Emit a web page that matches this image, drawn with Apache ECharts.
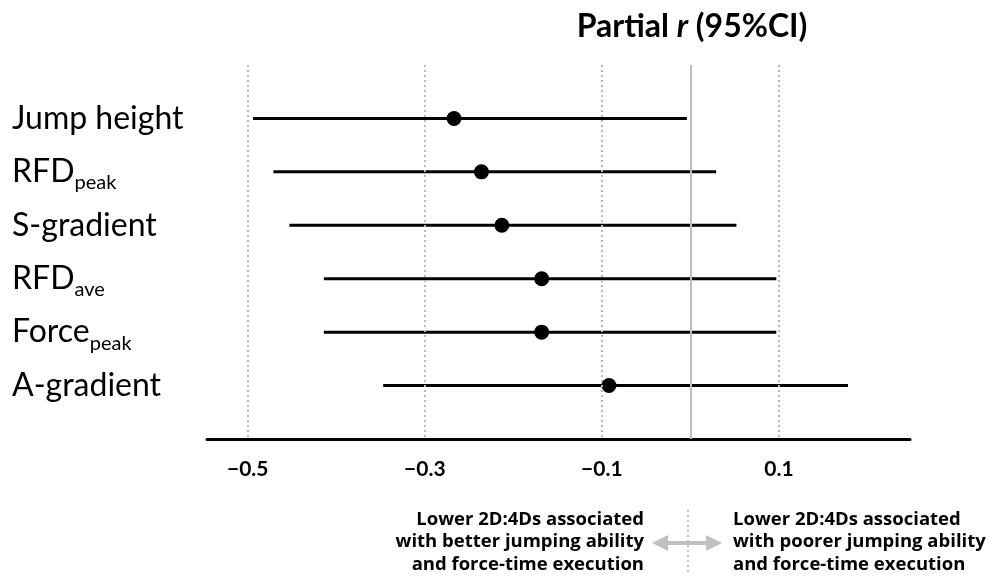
<!DOCTYPE html>
<html>
<head>
<meta charset="utf-8">
<script src="https://cdn.jsdelivr.net/npm/echarts@6/dist/echarts.min.js"></script>
<style>
  html, body { margin: 0; padding: 0; background: #fff; }
  #chart { width: 993px; height: 579px; }
</style>
</head>
<body>
<div id="chart"></div>
<script>
// outcome labels (rich text for the subscripts)
const categories = ['Jump height', 'RFD{sub|peak}', 'S-gradient', 'RFD{sub|ave}', 'Force{sub|peak}', 'A-gradient']
// partial r and 95% CI
const estimates = [-0.267, -0.236, -0.213, -0.168, -0.168, -0.092]
const lowerCI = [-0.494, -0.471, -0.453, -0.414, -0.414, -0.347]
const upperCI = [-0.004, 0.029, 0.052, 0.097, 0.097, 0.178]
const tickValues = [-0.5, -0.3, -0.1, 0.1]

const FONT = 'Lato, "Open Sans", sans-serif'
const NOTE_FONT = '"Open Sans", Lato, sans-serif'

const chart = echarts.init(document.getElementById('chart'))

const ciData = categories.map((c, i) => [lowerCI[i], upperCI[i], i])
const pointData = categories.map((c, i) => [estimates[i], i])

const option = {
  backgroundColor: '#fff',
  animation: false,
  title: {
    text: '{b|Partial }{i|r}{b| (95%CI)}',
    left: 687,
    top: 6,
    textAlign: 'center',
    textStyle: {
      rich: {
        b: { fontSize: 32, fontWeight: 'bold', fontFamily: FONT, color: '#000' },
        i: { fontSize: 32, fontWeight: 'bold', fontStyle: 'italic', fontFamily: FONT, color: '#000' }
      }
    }
  },
  grid: { left: 207, right: 83, top: 65, bottom: 140 },
  xAxis: {
    type: 'value',
    min: -0.546,
    max: 0.248,
    axisLine: { show: true, onZero: false, lineStyle: { color: '#000', width: 3 } },
    axisTick: { show: false },
    splitLine: { show: false },
    axisLabel: {
      customValues: tickValues,
      margin: 20,
      fontSize: 21,
      fontWeight: 'bold',
      fontFamily: FONT,
      color: '#000',
      formatter: v => v.toFixed(1).replace('-', '\u2212')
    }
  },
  yAxis: {
    type: 'value',
    inverse: true,
    min: -1,
    max: 6,
    interval: 1,
    axisLine: { show: false },
    axisTick: { show: false },
    splitLine: { show: false },
    axisLabel: {
      align: 'left',
      margin: 195,
      fontSize: 32,
      fontFamily: FONT,
      color: '#000',
      formatter: v => categories[v] || '',
      rich: {
        sub: { fontSize: 20, fontFamily: FONT, color: '#000', padding: [22, 0, 0, 0] }
      }
    }
  },
  series: [
    {
      // reference grid lines
      type: 'scatter',
      data: [],
      z: 1,
      silent: true,
      markLine: {
        symbol: 'none',
        silent: true,
        label: { show: false },
        data: [
          ...tickValues.map(v => ({ xAxis: v, lineStyle: { color: '#b8b8b8', width: 2, type: [2, 3] } })),
          { xAxis: 0, lineStyle: { color: '#bdbdbd', width: 2, type: 'solid' } }
        ]
      }
    },
    {
      type: 'custom',
      z: 3,
      data: ciData,
      encode: { x: [0, 1], y: 2 },
      renderItem: (params, api) => {
        const a = api.coord([api.value(0), api.value(2)])
        const b = api.coord([api.value(1), api.value(2)])
        return {
          type: 'line',
          shape: { x1: a[0], y1: a[1], x2: b[0], y2: b[1] },
          style: { stroke: '#000', lineWidth: 3 }
        }
      }
    },
    {
      type: 'scatter',
      z: 4,
      data: pointData,
      symbol: 'circle',
      symbolSize: 15,
      itemStyle: { color: '#000', opacity: 1 }
    }
  ],
  graphic: [
    {
      type: 'text',
      x: 644,
      y: 508,
      style: {
        text: 'Lower 2D:4Ds associated\nwith better jumping ability\nand force-time execution',
        align: 'right',
        font: 'bold 18.5px ' + NOTE_FONT,
        lineHeight: 22.5,
        fill: '#000'
      }
    },
    {
      type: 'text',
      x: 733,
      y: 508,
      style: {
        text: 'Lower 2D:4Ds associated\nwith poorer jumping ability\nand force-time execution',
        align: 'left',
        font: 'bold 18.5px ' + NOTE_FONT,
        lineHeight: 22.5,
        fill: '#000'
      }
    },
    {
      type: 'line',
      shape: { x1: 688, y1: 510, x2: 688, y2: 574 },
      style: { stroke: '#c0c0c0', lineWidth: 2, lineDash: [2, 3] }
    },
    {
      type: 'line',
      shape: { x1: 664, y1: 543, x2: 710, y2: 543 },
      style: { stroke: '#c0c0c0', lineWidth: 4 }
    },
    {
      type: 'polygon',
      shape: { points: [[652, 543], [668, 535], [668, 551]] },
      style: { fill: '#c0c0c0' }
    },
    {
      type: 'polygon',
      shape: { points: [[722, 543], [706, 535], [706, 551]] },
      style: { fill: '#c0c0c0' }
    }
  ]
}

chart.setOption(option)
window.addEventListener('resize', () => chart.resize())
</script>
</body>
</html>
